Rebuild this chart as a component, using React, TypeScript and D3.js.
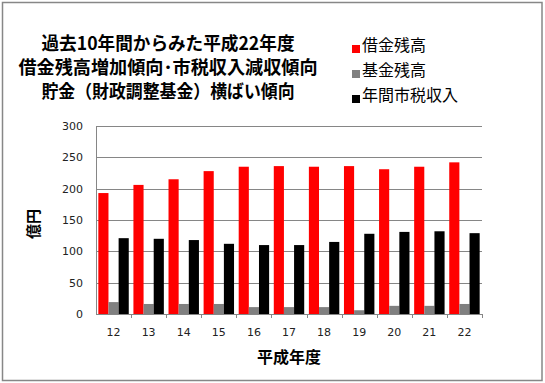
import React from "react";
import * as d3 from "d3";

const categories = ["12", "13", "14", "15", "16", "17", "18", "19", "20", "21", "22"];
const seriesNames = ["借金残高", "基金残高", "年間市税収入"];
const debt = [193, 206, 215, 228, 235, 236, 235, 236, 231, 235, 242];
const fund = [19, 16, 16, 16, 11, 11, 11, 6, 13, 13, 16];
const tax = [121, 120, 118, 112, 110, 110, 115, 128, 131, 132, 129];
const yTicks = [0, 50, 100, 150, 200, 250, 300];
const titleLines = ["過去10年間からみた平成22年度", "借金残高増加傾向･市税収入減収傾向", "貯金（財政調整基金）横ばい傾向"];
const colors = ["#ff0000", "#808080", "#000000"];

export default function App() {
  const W = 545, H = 383;
  const left = 96, right = 482, top = 126, bottom = 314;
  const x = d3.scaleBand<string>().domain(categories).range([left, right]).paddingInner(0).paddingOuter(0);
  const inner = d3.scaleBand<number>().domain([0, 1, 2]).range([0, x.bandwidth()]).paddingOuter(0.23).paddingInner(0);
  const y = d3.scaleLinear().domain([0, 300]).range([bottom, top]);
  const series = [debt, fund, tax];
  const jp = "'Noto Sans CJK JP', sans-serif";
  const num = "'DejaVu Sans', sans-serif";
  const titleLens = [253, 299, 253];
  return (
    <svg width={W} height={H} style={{ position: "absolute", left: 0, top: 0 }}>
      <rect x={0} y={0} width={W} height={H} fill="#fff" />
      <rect x={2.5} y={2.5} width={539.5} height={378} fill="none" stroke="#878787" strokeWidth={1.5} />
      {titleLines.map((t, i) => (
        <text key={i} x={168} y={50 + i * 24} textAnchor="middle" fontFamily={jp} fontWeight="bold" fontSize={18} fill="#000" textLength={titleLens[i]} lengthAdjust="spacingAndGlyphs">{t}</text>
      ))}
      {seriesNames.map((n, i) => (
        <g key={n}>
          <rect x={352} y={45 + i * 25} width={8} height={8} fill={colors[i]} />
          <text x={362} y={51 + i * 25} fontFamily={jp} fontSize={16} fill="#000">{n}</text>
        </g>
      ))}
      {yTicks.map((t) => (
        <g key={t}>
          {t > 0 && <line x1={left} x2={right} y1={Math.round(y(t)) + 0.5} y2={Math.round(y(t)) + 0.5} stroke="#868686" strokeWidth={1} />}
          <text x={83} y={y(t) + 4} textAnchor="end" fontFamily={num} fontSize={11} fill="#222">{t}</text>
        </g>
      ))}
      {categories.map((c, ci) => (
        <g key={c}>
          {series.map((s, si) => (
            <rect key={si} x={(x(c) as number) + (inner(si) as number)} y={y(s[ci])} width={inner.bandwidth()} height={bottom - y(s[ci])} fill={colors[si]} />
          ))}
          <text x={(x(c) as number) + x.bandwidth() / 2} y={336} textAnchor="middle" fontFamily={num} fontSize={11} fill="#222">{c}</text>
        </g>
      ))}
      <line x1={left + 0.5} x2={left + 0.5} y1={top} y2={bottom} stroke="#868686" />
      <line x1={left} x2={right} y1={bottom + 0.5} y2={bottom + 0.5} stroke="#868686" />
      {categories.map((c, ci) => (
        <line key={"t" + c} x1={Math.round((x(c) as number) + x.bandwidth()) + 0.5} x2={Math.round((x(c) as number) + x.bandwidth()) + 0.5} y1={bottom} y2={bottom + 4} stroke="#868686" />
      ))}
      <text x={289} y={363} textAnchor="middle" fontFamily={jp} fontWeight="bold" fontSize={16} fill="#000">平成年度</text>
      <text transform="translate(39,224) rotate(-90)" textAnchor="middle" fontFamily={jp} fontWeight="bold" fontSize={15} fill="#000">億円</text>
    </svg>
  );
}
